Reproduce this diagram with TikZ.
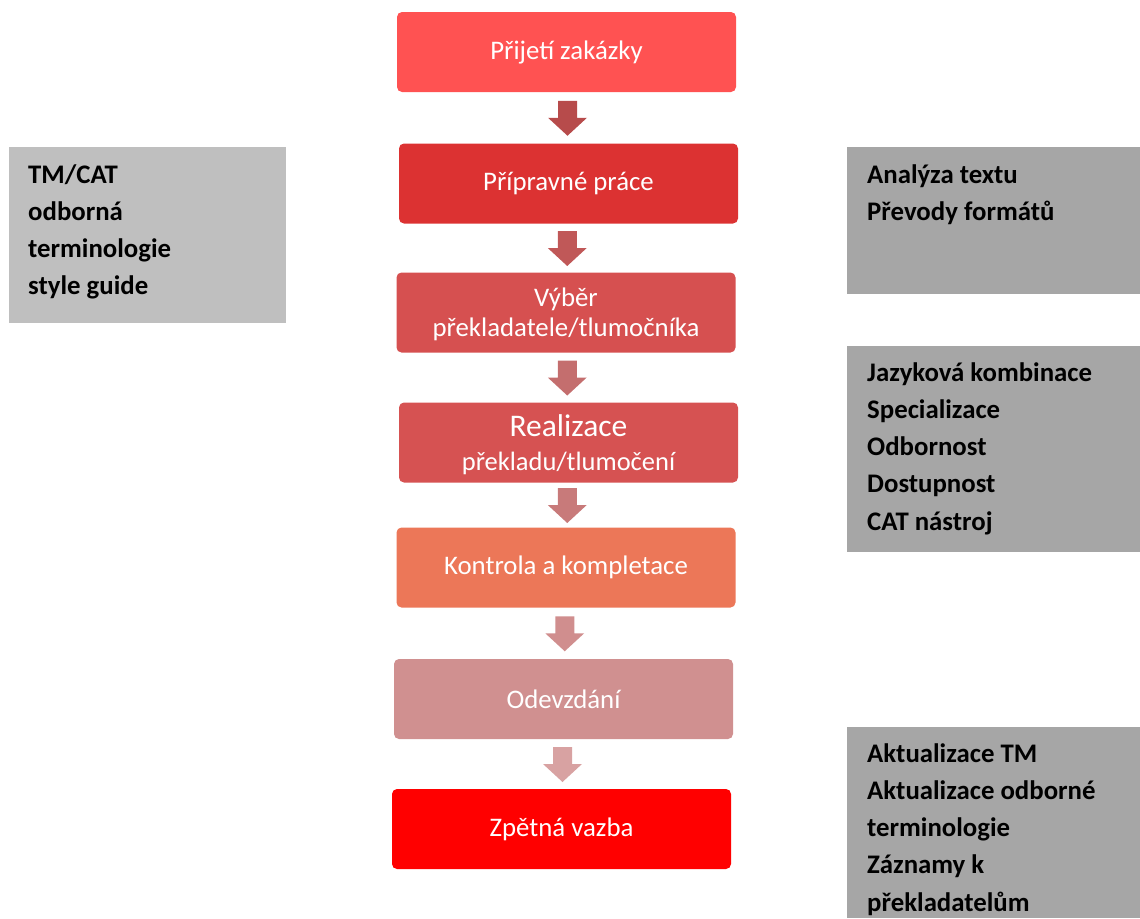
\documentclass[tikz,border=0pt]{standalone}
\usepackage{fontspec}
\setmainfont{Carlito}
\usetikzlibrary{calc}
\definecolor{cA}{RGB}{255,82,82}
\definecolor{cB}{RGB}{220,50,50}
\definecolor{cC}{RGB}{214,80,80}
\definecolor{cD}{RGB}{214,82,82}
\definecolor{cE}{RGB}{236,119,88}
\definecolor{cF}{RGB}{208,144,144}
\definecolor{cG}{RGB}{255,0,0}
\definecolor{aA}{RGB}{183,75,75}
\definecolor{aB}{RGB}{192,88,88}
\definecolor{aC}{RGB}{196,110,110}
\definecolor{aD}{RGB}{200,122,122}
\definecolor{aE}{RGB}{208,142,142}
\definecolor{aF}{RGB}{216,162,162}
\definecolor{grayL}{RGB}{191,191,191}
\definecolor{grayR}{RGB}{166,166,166}
\tikzset{
  stepbox/.style={rectangle, rounded corners=5pt, minimum width=339pt, minimum height=80pt,
    text=white, align=center, inner sep=0pt, font=\fontsize{26.8}{30.5}\selectfont},
  steptext/.style={text=white, align=center, inner sep=0pt},
  sidebox/.style={rectangle, inner sep=0pt},
  sidetext/.style={anchor=north west, inner sep=0pt, align=left,
    font=\fontsize{26.8}{37.3}\selectfont\bfseries, text=black},
}
\newcommand{\flowarrow}[3]{%
  \coordinate (m#1) at ($(#1.south)!0.5!(#2.north)$);
  \fill[#3] ($(m#1)+(-9.5,-17)$) -- ($(m#1)+(9.5,-17)$) -- ($(m#1)+(9.5,0)$) -- ($(m#1)+(19.5,0)$)
    -- ($(m#1)+(0,18)$) -- ($(m#1)+(-19.5,0)$) -- ($(m#1)+(-9.5,0)$) -- cycle;}
\begin{document}
\begin{tikzpicture}[x=1pt,y=-1pt]
\useasboundingbox (0,0) rectangle (1140,918);
% side boxes
\node[sidebox, fill=grayL, minimum width=277pt, minimum height=176pt, anchor=north west] (gL) at (9,147) {};
\node[sidebox, fill=grayR, minimum width=293pt, minimum height=147pt, anchor=north west] (gR1) at (847,147) {};
\node[sidebox, fill=grayR, minimum width=293pt, minimum height=206pt, anchor=north west] (gR2) at (847,346) {};
\node[sidebox, fill=grayR, minimum width=293pt, minimum height=191pt, anchor=north west] (gR3) at (847,727) {};
\node[sidetext] (tL) at (28,164) {TM/CAT\\odborná\\terminologie\\style guide};
\node[sidetext] (tR1) at (867,164) {Analýza textu\\Převody formátů};
\node[sidetext] (tR2) at (867,362) {Jazyková kombinace\\Specializace\\Odbornost\\Dostupnost\\CAT nástroj};
\node[sidetext] (tR3) at (867,743) {Aktualizace TM\\Aktualizace odborné\\terminologie\\Záznamy k\\překladatelům};
% main flow
\node[stepbox, fill=cA] (b1) at (566.5,52) {Přijetí zakázky};
\node[stepbox, fill=cB] (b2) at (568.5,183.5) {Přípravné práce};
\node[stepbox, fill=cC] (b3) at (566,312.5) {};
\node[steptext, font=\fontsize{26.8}{30.5}\selectfont] (t3) at (566,314.5) {Výběr\\překladatele/tlumočníka};
\node[stepbox, fill=cD] (b4) at (568.5,442.5) {};
\node[steptext, font=\fontsize{26.5}{33.5}\selectfont] (t4) at (568.5,444.5) {{\fontsize{31.5}{33.5}\selectfont Realizace}\\překladu/tlumočení};
\node[stepbox, fill=cE] (b5) at (566,567.5) {Kontrola a kompletace};
\node[stepbox, fill=cF] (b6) at (563.5,699) {Odevzdání};
\node[stepbox, fill=cG] (b7) at (561.5,829) {Zpětná vazba};
\flowarrow{b1}{b2}{aA}
\flowarrow{b2}{b3}{aB}
\flowarrow{b3}{b4}{aC}
\flowarrow{b4}{b5}{aD}
\flowarrow{b5}{b6}{aE}
\flowarrow{b6}{b7}{aF}
\end{tikzpicture}
\end{document}
